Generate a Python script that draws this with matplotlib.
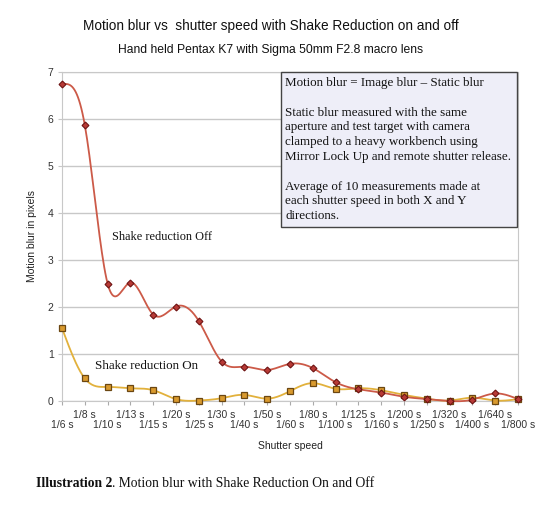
import numpy as np
import matplotlib.pyplot as plt
from matplotlib.patches import Rectangle

speeds = ['1/6 s', '1/8 s', '1/10 s', '1/13 s', '1/15 s', '1/20 s', '1/25 s',
          '1/30 s', '1/40 s', '1/50 s', '1/60 s', '1/80 s', '1/100 s',
          '1/125 s', '1/160 s', '1/200 s', '1/250 s', '1/320 s', '1/400 s',
          '1/640 s', '1/800 s']
sr_off = [6.74, 5.87, 2.50, 2.52, 1.84, 2.01, 1.70, 0.84, 0.73, 0.66, 0.79,
          0.70, 0.40, 0.25, 0.18, 0.09, 0.04, 0.00, 0.03, 0.16, 0.04]
sr_on = [1.55, 0.48, 0.30, 0.27, 0.23, 0.04, 0.01, 0.06, 0.13, 0.05, 0.21,
         0.38, 0.26, 0.27, 0.23, 0.13, 0.05, 0.01, 0.07, 0.01, 0.04]

note = ("Motion blur = Image blur \u2013 Static blur\n\n"
        "Static blur measured with the same\n"
        "aperture and test target with camera\n"
        "clamped to a heavy workbench using\n"
        "Mirror Lock Up and remote shutter release.\n\n"
        "Average of 10 measurements made at\n"
        "each shutter speed in both X and Y\n"
        "directions.")


def smooth(y, n=20):
    # natural cubic spline through the points, only for drawing the line
    y = np.asarray(y, float)
    m = len(y)
    A = np.zeros((m, m))
    b = np.zeros(m)
    A[0, 0] = A[-1, -1] = 1
    for i in range(1, m - 1):
        A[i, i - 1], A[i, i], A[i, i + 1] = 1, 4, 1
        b[i] = 6 * (y[i + 1] - 2 * y[i] + y[i - 1])
    M = np.linalg.solve(A, b)
    xs, ys = [], []
    for i in range(m - 1):
        t = np.linspace(0, 1, n, endpoint=False)
        s = ((1 - t) * y[i] + t * y[i + 1]
             + ((1 - t) ** 3 - (1 - t)) * M[i] / 6 + (t ** 3 - t) * M[i + 1] / 6)
        xs.append(i + t)
        ys.append(s)
    xs.append([m - 1])
    ys.append([y[-1]])
    return np.concatenate(xs), np.concatenate(ys)


x = np.arange(len(speeds))

fig = plt.figure(figsize=(5.4, 5.07), dpi=100)
ax = fig.add_axes([62 / 540, 1 - 401 / 507, 456 / 540, 329 / 507])

sx, sy = smooth(sr_on)
ax.plot(sx, sy, color='#e2b13c', lw=1.3, zorder=3, clip_on=False)
ax.plot(x, sr_on, ls='none', marker='s', ms=5, mfc='#d99a2e', mec='#6b4712',
        mew=0.9, zorder=4, clip_on=False)
sx, sy = smooth(sr_off)
ax.plot(sx, sy, color='#cc5a48', lw=1.3, zorder=3, clip_on=False)
ax.plot(x, sr_off, ls='none', marker='D', ms=3.5, mfc='#b83a36', mec='#6e1414',
        mew=0.8, zorder=5, clip_on=False)

ax.set_xlim(0, len(speeds) - 1)
ax.set_ylim(0, 7)
ax.set_yticks(range(8))
ax.grid(axis='y', color='#c8c8c8', lw=1)
ax.set_axisbelow(True)
for s in ax.spines.values():
    s.set_color('#c8c8c8')
ax.tick_params(axis='y', length=3, colors='#c8c8c8', labelcolor='#333333',
               labelsize=7.5, pad=3)
ax.set_yticklabels([str(v) for v in range(8)], family='Liberation Sans')
ax.set_xticks(x)
ax.set_xticklabels([])
ax.tick_params(axis='x', length=3, colors='#aaaaaa')
for i, lab in enumerate(speeds):
    ax.annotate(lab, (i, 0), xycoords=('data', 'axes fraction'),
                xytext=(0, -10 if i % 2 else -17.5), textcoords='offset points',
                ha='center', va='center', fontsize=7.5, color='#333333',
                family='Liberation Sans')

fig.text(32 / 540, 1 - 236 / 507, 'Motion blur in pixels', rotation=90,
         ha='center', va='center', fontsize=7.5, family='Liberation Sans',
         color='#222222')
fig.text(290 / 540, 1 - 446 / 507, 'Shutter speed', ha='center', va='center',
         fontsize=7.5, family='Liberation Sans', color='#222222')

fig.text(271 / 540, 1 - 26 / 507,
         'Motion blur vs  shutter speed with Shake Reduction on and off',
         ha='center', va='center', fontsize=9.8, family='Liberation Sans',
         color='#111111')
fig.text(271 / 540, 1 - 50 / 507,
         'Hand held Pentax K7 with Sigma 50mm F2.8 macro lens',
         ha='center', va='center', fontsize=8.7, family='Liberation Sans',
         color='#111111')

ax.text(2.2, 3.5, 'Shake reduction Off', fontsize=8.8, family='Liberation Serif',
        va='center', color='#111111', zorder=6)
ax.text(1.45, 0.75, 'Shake reduction On', fontsize=9.4, family='Liberation Serif',
        va='center', color='#111111', zorder=6)

box = Rectangle((281 / 540, 1 - 227 / 507), 236 / 540, 155 / 507,
                transform=fig.transFigure, fc='#eeeef8', ec='#444444', lw=1,
                zorder=10)
fig.patches.append(box)
fig.text(285 / 540, 1 - 77 / 507, note, ha='left', va='top', fontsize=9.4,
         family='Liberation Serif', color='#111111', linespacing=1.31,
         zorder=11)

cap = fig.text(36 / 540, 1 - 487 / 507, 'Illustration 2', ha='left',
               va='baseline', fontsize=9.8, family='Liberation Serif',
               weight='bold', color='#111111')
ax.annotate('. Motion blur with Shake Reduction On and Off', xy=(1, 0),
            xycoords=cap, ha='left', va='bottom', fontsize=9.8,
            family='Liberation Serif', color='#111111',
            annotation_clip=False)

fig.savefig('out.png', dpi=100)
